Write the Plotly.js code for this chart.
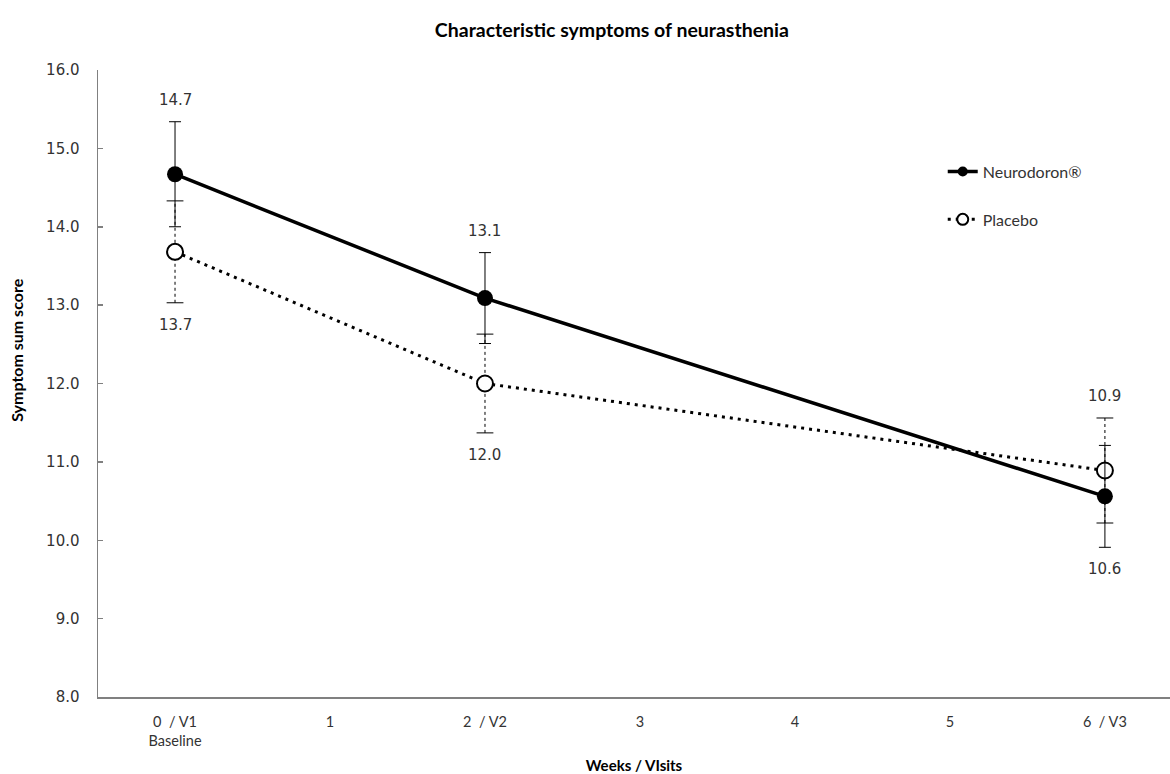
<!DOCTYPE html>
<html>
<head>
<meta charset="utf-8">
<script src="https://cdn.plot.ly/plotly-3.0.1.min.js"></script>
<style>html,body{margin:0;padding:0;background:#fff;}#chart{width:1170px;height:774px;}</style>
</head>
<body>
<div id="chart"></div>
<script>
var weeks = [0, 2, 6];
var tickVals = [0, 1, 2, 3, 4, 5, 6];
var tickText = ["0  / V1<br>Baseline", "1", "2  / V2", "3", "4", "5", "6  / V3"];
var neuroVals = [14.67, 13.09, 10.56];
var neuroErr = [0.67, 0.58, 0.65];
var placeboVals = [13.68, 12.0, 10.89];
var placeboErr = [0.65, 0.63, 0.67];
var neuroLabels = ["14.7", "13.1", "10.6"];
var placeboLabels = ["13.7", "12.0", "10.9"];
var neuroLabelSide = ["above", "above", "below"];
var placeboLabelSide = ["below", "below", "above"];

var numFont = "DejaVu Sans, Verdana, sans-serif";
var txtFont = "Lato, 'Open Sans', sans-serif";
var dotDash = '3px,5px';

var traces = [];

// Placebo dashed error bars (vertical) and caps
weeks.forEach(function (w, i) {
  traces.push({
    x: [w, w],
    y: [placeboVals[i] - placeboErr[i], placeboVals[i] + placeboErr[i]],
    mode: 'lines+markers',
    line: {color: '#000', width: 1, dash: '3px,3px'},
    marker: {symbol: 'line-ew', size: 12, line: {color: '#000', width: 1}},
    showlegend: false, hoverinfo: 'skip'
  });
});

traces.push({
  x: weeks, y: placeboVals, name: 'Placebo', showlegend: false,
  mode: 'lines+markers',
  line: {color: '#000', width: 3, dash: dotDash},
  marker: {symbol: 'circle', size: 16, color: '#fff', line: {color: '#000', width: 2}}
});

traces.push({
  x: weeks, y: neuroVals, name: 'Neurodoron®', showlegend: false,
  mode: 'lines+markers',
  line: {color: '#000', width: 3.5},
  marker: {symbol: 'circle', size: 16, color: '#000'},
  error_y: {type: 'data', array: neuroErr, visible: true, color: '#000', thickness: 1, width: 6}
});

// legend entries (smaller symbols, as in the reference legend)
traces.push({
  x: [null], y: [null], name: 'Neurodoron®', legendgroup: 'a', legendrank: 1,
  mode: 'lines+markers', line: {color: '#000', width: 3.5},
  marker: {symbol: 'circle', size: 10, color: '#000'}
});
traces.push({
  x: [null], y: [null], name: 'Placebo', legendgroup: 'b', legendrank: 2,
  mode: 'lines+markers', line: {color: '#000', width: 3, dash: dotDash},
  marker: {symbol: 'circle', size: 11, color: '#fff', line: {color: '#000', width: 2}}
});

var annotations = [];
function addLabels(vals, errs, labels, sides) {
  weeks.forEach(function (w, i) {
    var up = sides[i] === 'above';
    annotations.push({
      x: w, y: up ? vals[i] + errs[i] : vals[i] - errs[i],
      text: labels[i], showarrow: false,
      yanchor: up ? 'bottom' : 'top', yshift: up ? 11 : -11,
      font: {family: numFont, size: 15, color: '#333'}
    });
  });
}
addLabels(neuroVals, neuroErr, neuroLabels, neuroLabelSide);
addLabels(placeboVals, placeboErr, placeboLabels, placeboLabelSide);

annotations.push({
  xref: 'paper', yref: 'paper', x: -0.076, y: 0.553, xanchor: 'center', yanchor: 'middle',
  text: 'Symptom sum score', textangle: -90, showarrow: false,
  font: {family: txtFont, size: 16, color: '#000', weight: 'bold'}
});

var layout = {
  width: 1170, height: 774,
  margin: {l: 98, r: 0, t: 70, b: 77},
  paper_bgcolor: '#fff', plot_bgcolor: '#fff',
  title: {text: 'Characteristic symptoms of neurasthenia', x: 0.523, xanchor: 'center', y: 0.961, yanchor: 'middle',
          font: {family: txtFont, size: 19.5, color: '#000', weight: 'bold'}},
  xaxis: {
    range: [-0.497, 6.42], tickvals: tickVals, ticktext: tickText,
    showgrid: false, zeroline: false, showline: true, linecolor: '#808080', linewidth: 1.5,
    ticks: '', ticklabelstandoff: 11,
    tickfont: {family: txtFont, size: 14.5, color: '#333'},
    title: {text: 'Weeks / VIsits', font: {family: txtFont, size: 15, color: '#000', weight: 'bold'}, standoff: 12}
  },
  yaxis: {
    range: [8, 16], dtick: 1, tickformat: '.1f',
    showgrid: false, zeroline: false, showline: true, linecolor: '#808080', linewidth: 1.5,
    ticks: 'inside', ticklen: 5, tickcolor: '#808080', tickwidth: 1.5,
    ticklabelstandoff: 14,
    tickfont: {family: numFont, size: 15, color: '#333'}
  },
  legend: {x: 0.788, y: 0.865, xanchor: 'left', yanchor: 'top', bgcolor: 'rgba(0,0,0,0)',
           font: {family: txtFont, size: 16, color: '#333'}, traceorder: 'grouped', tracegroupgap: 24},
  annotations: annotations
};

Plotly.newPlot('chart', traces, layout, {displayModeBar: false, staticPlot: true});
</script>
</body>
</html>
